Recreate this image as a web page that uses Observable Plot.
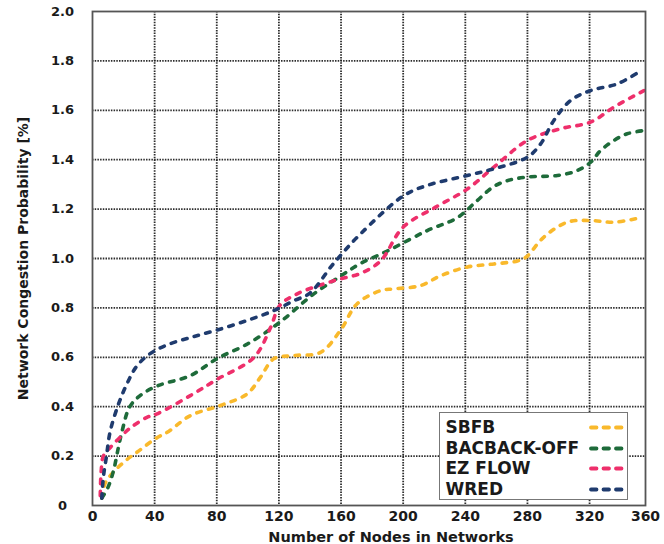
<!DOCTYPE html>
<html>
<head>
<meta charset="utf-8">
<script src="https://cdn.jsdelivr.net/npm/d3@7"></script>
<script src="https://cdn.jsdelivr.net/npm/@observablehq/plot@0.6"></script>
<style>
  html, body { margin: 0; padding: 0; background: #fff; }
  #wrap { position: relative; width: 664px; height: 544px; }
  #legend {
    position: absolute; left: 439px; top: 412px; width: 189px; height: 88px;
    box-sizing: border-box; border: 1.5px solid #777; background: #fff;
    padding: 4px 0 0 5.5px;
    font-family: "DejaVu Sans", sans-serif; font-weight: bold; font-size: 17px; color: #1a1a1a;
  }
  #legend .row { position: relative; height: 20.7px; line-height: 20.7px; white-space: nowrap; }
  #legend svg { position: absolute; left: 142px; top: 0; }
</style>
</head>
<body>
<div id="wrap"><div id="legend"></div></div>
<script>
// ---- data ----
const seriesNames = ["SBFB", "BACBACK-OFF", "EZ FLOW", "WRED"];
const seriesColors = ["#F9B92C", "#1E6B3A", "#EE2F6B", "#1F3B6E"];

const sbfbX = [6, 8, 12.4, 21, 29.6, 40.4, 49, 63, 82.4, 99.6, 108.2, 116.7, 129.6, 146.8, 159.7, 170.4, 185.4, 194, 211, 224, 241, 258.4, 273.5, 279, 290.6, 305.6, 320.6, 335.7, 354];
const sbfbY = [0.03, 0.088, 0.128, 0.18, 0.22, 0.27, 0.30, 0.364, 0.405, 0.452, 0.52, 0.594, 0.607, 0.62, 0.71, 0.817, 0.87, 0.877, 0.89, 0.93, 0.965, 0.978, 0.99, 1.005, 1.087, 1.147, 1.154, 1.147, 1.167];

const backX = [6, 10, 13.5, 16.7, 19, 24, 31.7, 42.5, 63, 80, 100, 120.6, 142.5, 160, 172.6, 189.7, 215.5, 234.8, 247.7, 258, 267, 279.9, 299.2, 312.1, 320.7, 327.1, 335.7, 344.3, 355];
const backY = [0.03, 0.074, 0.14, 0.236, 0.30, 0.40, 0.45, 0.486, 0.526, 0.594, 0.655, 0.742, 0.857, 0.93, 0.98, 1.03, 1.113, 1.165, 1.235, 1.29, 1.315, 1.33, 1.336, 1.356, 1.39, 1.437, 1.478, 1.505, 1.518];

const ezX = [5, 5.6, 7, 11.6, 20, 25, 35, 41.6, 63, 80, 104, 114.6, 120.6, 131.8, 155.4, 172.6, 185.4, 200, 221.5, 241, 258.4, 280, 301, 320.6, 335.7, 355];
const ezY = [0.04, 0.14, 0.20, 0.236, 0.29, 0.317, 0.357, 0.371, 0.445, 0.51, 0.60, 0.72, 0.81, 0.857, 0.91, 0.94, 0.99, 1.127, 1.21, 1.28, 1.37, 1.478, 1.525, 1.552, 1.613, 1.68];

const wredX = [6, 7, 9, 11.4, 16.7, 22, 28, 36, 48, 63, 80, 100, 117, 130, 140, 155, 172.6, 200.5, 215.5, 241.3, 258.4, 279.9, 288.5, 297, 307.8, 320.7, 337.9, 353];
const wredY = [0.03, 0.115, 0.20, 0.30, 0.41, 0.49, 0.56, 0.61, 0.65, 0.68, 0.71, 0.75, 0.79, 0.83, 0.86, 0.978, 1.10, 1.255, 1.296, 1.336, 1.363, 1.41, 1.464, 1.559, 1.64, 1.68, 1.707, 1.76];

const xTickValues = [0, 40, 80, 120, 160, 200, 240, 280, 320, 356];
const xTickLabels = ["0", "40", "80", "120", "160", "200", "240", "280", "320", "360"];
const yTickValues = [0, 0.2, 0.4, 0.6, 0.8, 1.0, 1.2, 1.4, 1.6, 1.8, 2.0];
const yTickLabels = ["0", "0.2", "0.4", "0.6", "0.8", "1.0", "1.2", "1.4", "1.6", "1.8", "2.0"];
const xGrid = [40, 80, 120, 160, 200, 240, 280, 320];
const yGrid = [0.2, 0.4, 0.6, 0.8, 1.0, 1.2, 1.4, 1.6, 1.8];
const xTitle = "Number of Nodes in Networks";
const yTitle = "Network Congestion Probability [%]";

// ---- build table ----
const seriesXY = [[sbfbX, sbfbY], [backX, backY], [ezX, ezY], [wredX, wredY]];
const rows = [];
seriesXY.forEach(([xs, ys], s) => xs.forEach((x, i) => rows.push({series: seriesNames[s], x, y: ys[i]})));

const font = "'DejaVu Sans', sans-serif";
const ink = "#1a1a1a";

const chart = Plot.plot({
  width: 664,
  height: 544,
  marginLeft: 92,
  marginRight: 19,
  marginTop: 11,
  marginBottom: 39,
  style: {fontFamily: font, background: "#fff", color: ink},
  x: {domain: [0, 356]},
  y: {domain: [0, 2]},
  color: {domain: seriesNames, range: seriesColors},
  marks: [
    Plot.gridX(xGrid, {stroke: "#222", strokeOpacity: 0.95, strokeWidth: 1.8, strokeDasharray: "1.5,1.2"}),
    Plot.gridY(yGrid, {stroke: "#222", strokeOpacity: 0.95, strokeWidth: 1.8, strokeDasharray: "1.5,1.2"}),
    Plot.line(rows, {
      x: "x", y: "y", z: "series", stroke: "series",
      curve: "catmull-rom", strokeWidth: 3.6, strokeDasharray: "4.5,7.5", strokeLinecap: "round"
    }),
    Plot.frame({stroke: "#555", strokeWidth: 1.8}),
    Plot.axisX({
      ticks: xTickValues, tickFormat: d => xTickLabels[xTickValues.indexOf(d)],
      tickSize: 0, tickPadding: 6, fontSize: 14, fontWeight: "bold", label: null, fill: ink
    }),
    Plot.axisY({
      ticks: yTickValues, tickFormat: d => yTickLabels[yTickValues.indexOf(d)],
      tickSize: 0, tickPadding: 30, textAnchor: "middle", fontSize: 13, fontWeight: "bold", label: null, fill: ink
    }),
    Plot.text([xTitle], {frameAnchor: "bottom", lineAnchor: "middle", dy: 32, dx: 22, fontSize: 14.5, fontWeight: "bold", fill: ink}),
    Plot.text([yTitle], {frameAnchor: "left", textAnchor: "middle", lineAnchor: "middle", rotate: -90, dx: -69, fontSize: 14, fontWeight: "bold", fill: ink})
  ]
});
document.getElementById("wrap").prepend(chart);

// ---- legend ----
const legend = document.getElementById("legend");
seriesNames.forEach((name, i) => {
  const row = document.createElement("div");
  row.className = "row";
  row.textContent = name;
  const ns = "http://www.w3.org/2000/svg";
  const sw = document.createElementNS(ns, "svg");
  sw.setAttribute("width", "38");
  sw.setAttribute("height", "20");
  const ln = document.createElementNS(ns, "line");
  ln.setAttribute("x1", "3"); ln.setAttribute("x2", "36");
  ln.setAttribute("y1", "10.5"); ln.setAttribute("y2", "10.5");
  ln.setAttribute("stroke", seriesColors[i]);
  ln.setAttribute("stroke-width", "3.8");
  ln.setAttribute("stroke-linecap", "round");
  ln.setAttribute("stroke-dasharray", "5.5,7");
  sw.appendChild(ln);
  row.appendChild(sw);
  legend.appendChild(row);
});
</script>
</body>
</html>
